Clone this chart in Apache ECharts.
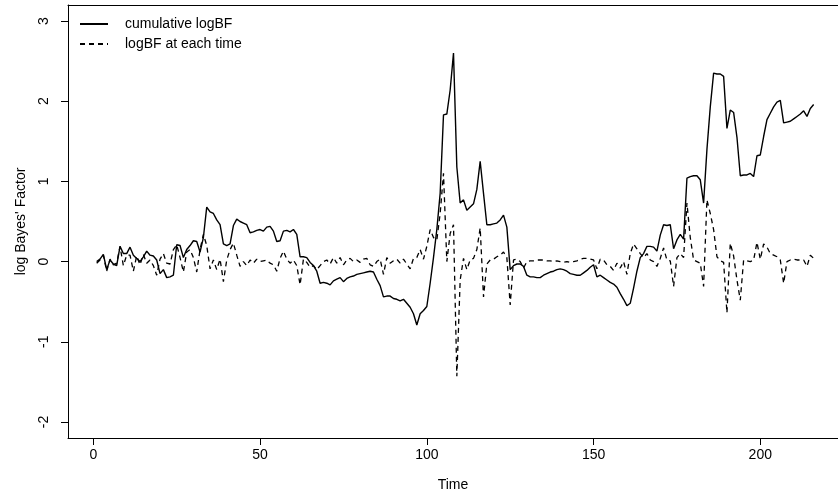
<!DOCTYPE html>
<html>
<head>
<meta charset="utf-8">
<script src="https://cdn.jsdelivr.net/npm/echarts@6/dist/echarts.min.js"></script>
<style>
  html, body { margin: 0; padding: 0; background: #fff; }
  #chart { width: 838px; height: 497px; }
</style>
</head>
<body>
<div id="chart"></div>
<script>
// values, time = 1..216
const cumulativeLogBF = [
  0.00, 0.03, 0.09, -0.10, 0.02, -0.03, -0.05, 0.19, 0.10, 0.10,
  0.18, 0.08, 0.04, 0.00, 0.06, 0.13, 0.08, 0.07, 0.02, -0.15,
  -0.10, -0.20, -0.19, -0.17, 0.21, 0.20, 0.05, 0.15, 0.20, 0.26,
  0.25, 0.12, 0.30, 0.68, 0.62, 0.60, 0.52, 0.46, 0.22, 0.20,
  0.22, 0.45, 0.53, 0.50, 0.48, 0.46, 0.36, 0.37, 0.39, 0.40,
  0.38, 0.43, 0.44, 0.38, 0.25, 0.26, 0.38, 0.39, 0.37, 0.40,
  0.34, 0.06, 0.06, 0.05, -0.01, -0.05, -0.12, -0.27, -0.26, -0.27,
  -0.29, -0.24, -0.22, -0.20, -0.25, -0.21, -0.19, -0.18, -0.16, -0.15,
  -0.14, -0.13, -0.12, -0.13, -0.22, -0.30, -0.44, -0.43, -0.43, -0.46,
  -0.47, -0.49, -0.47, -0.52, -0.57, -0.65, -0.79, -0.65, -0.61, -0.56,
  -0.27, 0.05, 0.40, 0.85, 1.83, 1.84, 2.14, 2.60, 1.18, 0.73,
  0.77, 0.64, 0.68, 0.72, 0.90, 1.25, 0.85, 0.46, 0.46, 0.47,
  0.48, 0.52, 0.58, 0.43, -0.10, -0.05, -0.03, -0.03, -0.06, -0.17,
  -0.19, -0.19, -0.20, -0.20, -0.17, -0.15, -0.13, -0.12, -0.10, -0.09,
  -0.10, -0.12, -0.15, -0.16, -0.17, -0.17, -0.14, -0.11, -0.07, -0.04,
  -0.19, -0.17, -0.20, -0.23, -0.26, -0.28, -0.32, -0.40, -0.47, -0.55,
  -0.52, -0.33, -0.12, 0.05, 0.10, 0.19, 0.19, 0.18, 0.13, 0.33,
  0.46, 0.45, 0.46, 0.16, 0.27, 0.34, 0.28, 1.04, 1.06, 1.07,
  1.07, 1.02, 0.73, 1.40, 1.93, 2.35, 2.34, 2.34, 2.31, 1.66,
  1.89, 1.86, 1.55, 1.07, 1.08, 1.08, 1.10, 1.06, 1.32, 1.33,
  1.56, 1.77, 1.85, 1.93, 1.99, 2.01, 1.73, 1.74, 1.75, 1.78,
  1.81, 1.84, 1.88, 1.81, 1.91, 1.96
]

const logBFEachTime = [
  -0.02, 0.02, 0.08, -0.12, 0.03, -0.04, -0.02, 0.19, -0.05, 0.08,
  0.08, -0.12, 0.07, -0.04, 0.09, -0.02, 0.02, -0.05, -0.17, 0.03,
  0.10, -0.02, -0.03, 0.15, 0.21, 0.05, -0.13, 0.12, 0.15, 0.05,
  -0.13, 0.15, 0.34, 0.20, -0.09, 0.02, -0.10, 0.03, -0.25, 0.02,
  0.15, 0.23, 0.08, -0.06, 0.00, -0.05, 0.02, -0.02, 0.03, 0.00,
  0.01, 0.02, -0.02, -0.04, -0.12, 0.04, 0.13, 0.03, -0.02, 0.02,
  -0.05, -0.29, 0.03, -0.01, -0.07, -0.05, -0.10, -0.05, 0.00, 0.02,
  -0.03, 0.05, -0.02, 0.05, -0.04, 0.02, 0.04, 0.00, 0.02, -0.01,
  0.03, 0.04, -0.04, -0.06, 0.00, 0.03, -0.16, 0.05, -0.02, 0.01,
  0.03, -0.02, 0.03, -0.03, -0.09, 0.04, 0.05, 0.15, 0.03, 0.19,
  0.40, 0.30, 0.27, 0.60, 1.10, 0.00, 0.35, 0.46, -1.43, -0.23,
  0.04, -0.10, 0.02, 0.04, 0.15, 0.42, -0.44, -0.03, 0.02, 0.03,
  0.06, 0.08, 0.12, 0.05, -0.54, 0.02, 0.03, 0.00, -0.08, 0.00,
  0.01, 0.01, 0.02, 0.02, 0.02, 0.01, 0.01, 0.00, 0.01, 0.00,
  -0.01, 0.00, -0.01, 0.00, 0.01, 0.03, 0.04, 0.04, 0.03, 0.02,
  -0.09, 0.03, 0.02, -0.04, -0.06, -0.11, -0.02, -0.08, 0.00, -0.16,
  0.10, 0.22, 0.16, 0.10, 0.05, 0.10, 0.02, 0.00, -0.06, 0.04,
  0.17, 0.02, 0.01, -0.31, 0.05, 0.10, 0.05, 0.73, 0.30, 0.02,
  0.00, -0.02, -0.31, 0.77, 0.60, 0.40, 0.06, 0.01, -0.01, -0.64,
  0.23, 0.07, -0.23, -0.48, 0.02, 0.01, 0.00, 0.02, 0.24, 0.03,
  0.22, 0.18, 0.10, 0.08, 0.06, 0.02, -0.27, 0.00, 0.02, 0.03,
  0.02, 0.02, 0.02, -0.06, 0.08, 0.04
]

const xTicks = [0, 50, 100, 150, 200]
const yTicks = [-2, -1, 0, 1, 2, 3]

const font = 'Liberation Sans, Arial, Helvetica, sans-serif'
const black = '#000'

const chart = echarts.init(document.getElementById('chart'))
chart.setOption({
  animation: false,
  backgroundColor: '#fff',
  grid: {
    left: 68,
    top: 5,
    bottom: 59,
    right: 0,
    show: false
  },
  legend: {
    orient: 'vertical',
    left: 74,
    top: 12,
    itemWidth: 28,
    itemHeight: 14,
    itemGap: 6,
    itemStyle: { opacity: 0 },
    textStyle: { fontFamily: font, fontSize: 14, color: black, padding: [0, 0, 0, 12] },
    data: ['cumulative logBF', 'logBF at each time']
  },
  xAxis: [
    {
      type: 'value',
      min: -7.6,
      max: 223.3,
      name: 'Time',
      nameLocation: 'middle',
      nameGap: 40,
      nameTextStyle: { fontFamily: font, fontSize: 14, color: black },
      axisLine: { show: true, onZero: false, lineStyle: { color: black, width: 1 } },
      axisTick: { show: true, length: 7, lineStyle: { color: black }, customValues: xTicks },
      axisLabel: { fontFamily: font, fontSize: 14, color: black, margin: 10, customValues: xTicks },
      splitLine: { show: false }
    },
    {
      // top edge of the box
      type: 'value',
      position: 'top',
      min: -7.6,
      max: 223.3,
      axisLine: { show: true, onZero: false, lineStyle: { color: black, width: 1 } },
      axisTick: { show: false },
      axisLabel: { show: false },
      splitLine: { show: false }
    }
  ],
  yAxis: {
    type: 'value',
    min: -2.2,
    max: 3.2,
    name: "log Bayes' Factor",
    nameLocation: 'middle',
    nameGap: 40,
    nameTextStyle: { fontFamily: font, fontSize: 14, color: black },
    axisLine: { show: true, onZero: false, lineStyle: { color: black, width: 1 } },
    axisTick: { show: true, length: 7, lineStyle: { color: black }, customValues: yTicks },
    axisLabel: { fontFamily: font, fontSize: 14, color: black, rotate: 90, margin: 17, customValues: yTicks },
    splitLine: { show: false }
  },
  series: [
    {
      name: 'cumulative logBF',
      type: 'line',
      showSymbol: false,
      color: black,
      lineStyle: { color: black, width: 1.4 },
      data: cumulativeLogBF.map((v, i) => [i + 1, v])
    },
    {
      name: 'logBF at each time',
      type: 'line',
      showSymbol: false,
      color: black,
      lineStyle: { color: black, width: 1.3, type: [5, 4] },
      data: logBFEachTime.map((v, i) => [i + 1, v])
    }
  ]
})
</script>
</body>
</html>
